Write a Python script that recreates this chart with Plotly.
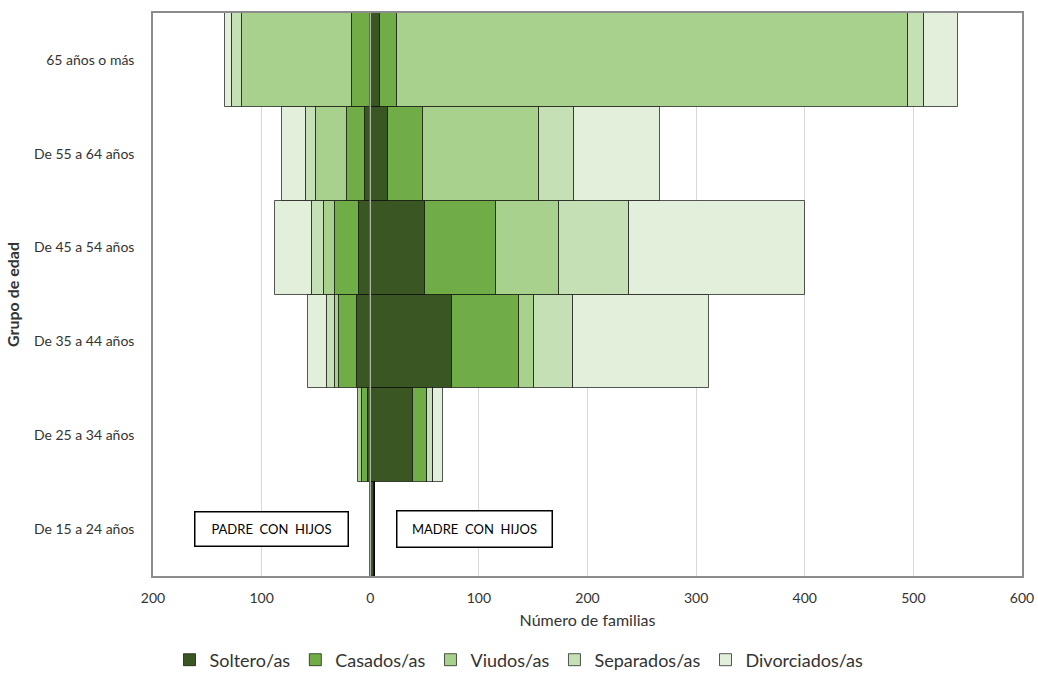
import plotly.graph_objects as go

categories = ["De 15 a 24 años", "De 25 a 34 años", "De 35 a 44 años",
              "De 45 a 54 años", "De 55 a 64 años", "65 años o más"]
series_names = ["Soltero/as", "Casados/as", "Viudos/as", "Separados/as", "Divorciados/as"]
colors = ["#3a5623", "#70ad47", "#a9d18e", "#c5e0b4", "#e2efda"]

# Padre con hijos (plotted to the left)
padre_soltero = [0, 2, 12, 10, 5, 0]
padre_casados = [0, 6, 17, 22, 16, 17]
padre_viudos = [0, 3, 3, 11, 29, 101]
padre_separados = [0, 0, 8, 11, 9, 9]
padre_divorciados = [0, 0, 17, 34, 22, 7]

# Madre con hijos (plotted to the right)
madre_soltero = [3, 39, 75, 50, 16, 9]
madre_casados = [1, 13, 62, 66, 33, 16]
madre_viudos = [0, 0, 14, 58, 106, 470]
madre_separados = [0, 6, 36, 64, 33, 15]
madre_divorciados = [0, 9, 125, 162, 79, 31]

tick_vals = [-200, -100, 0, 100, 200, 300, 400, 500, 600]
tick_text = ["200", "100", "0", "100", "200", "300", "400", "500", "600"]

padre = [padre_soltero, padre_casados, padre_viudos, padre_separados, padre_divorciados]
madre = [madre_soltero, madre_casados, madre_viudos, madre_separados, madre_divorciados]

FONT = "Lato"
fig = go.Figure()
line_style = dict(color="rgba(0,0,0,0.65)", width=1)
for name, col, p, m in zip(series_names, colors, padre, madre):
    fig.add_trace(go.Bar(
        y=categories, x=[-v for v in p], orientation="h", name=name,
        legendgroup=name, showlegend=True,
        marker=dict(color=col, line=line_style),
    ))
    fig.add_trace(go.Bar(
        y=categories, x=m, orientation="h", name=name,
        legendgroup=name, showlegend=False,
        marker=dict(color=col, line=line_style),
    ))

fig.add_shape(type="line", xref="x", yref="paper", x0=0, x1=0, y0=0, y1=1,
              line=dict(color="rgba(190,190,190,0.9)", width=1.5), layer="above")

box_font = dict(family=FONT, size=13, color="#000")
fig.add_annotation(x=-91, y="De 15 a 24 años", xref="x", yref="y", text="PADRE  CON  HIJOS",
                   showarrow=False, font=box_font, bordercolor="#000", borderwidth=1.5,
                   width=150, height=31, bgcolor="white")
fig.add_annotation(x=96, y="De 15 a 24 años", xref="x", yref="y", text="MADRE  CON  HIJOS",
                   showarrow=False, font=box_font, bordercolor="#000", borderwidth=1.5,
                   width=152, height=33, bgcolor="white")

fig.update_layout(
    width=1038, height=673,
    barmode="relative", bargap=0,
    paper_bgcolor="white", plot_bgcolor="white",
    margin=dict(l=153, r=16, t=13, b=97, autoexpand=False),
    font=dict(family=FONT, size=14, color="#333"),
    xaxis=dict(range=[-200, 600], tickvals=tick_vals, ticktext=tick_text,
               showgrid=True, gridcolor="#d9d9d9", gridwidth=1, zeroline=False,
               showline=True, linecolor="#8c8c8c", linewidth=1.5, mirror=True,
               ticks="", ticklabelstandoff=8, automargin=False,
               tickfont=dict(family=FONT, size=14, color="#333"),
               title=dict(text="Número de familias", font=dict(family=FONT, size=16, color="#333"),
                          standoff=10)),
    yaxis=dict(categoryorder="array", categoryarray=categories,
               showgrid=False, zeroline=False, automargin=False,
               showline=True, linecolor="#8c8c8c", linewidth=1.5, mirror=True,
               ticks="", ticklabelstandoff=14,
               tickfont=dict(family=FONT, size=14, color="#333"),
               title=dict(text="<b>Grupo de edad</b>", font=dict(family=FONT, size=16, color="#333"),
                          standoff=10)),
    legend=dict(orientation="h", xref="container", yref="container",
                x=0.5, xanchor="center", y=1 - 660 / 673, yanchor="middle",
                font=dict(family=FONT, size=18, color="#333"), traceorder="normal",
                itemwidth=30, bgcolor="rgba(0,0,0,0)"),
)

fig.write_html("out.html")
